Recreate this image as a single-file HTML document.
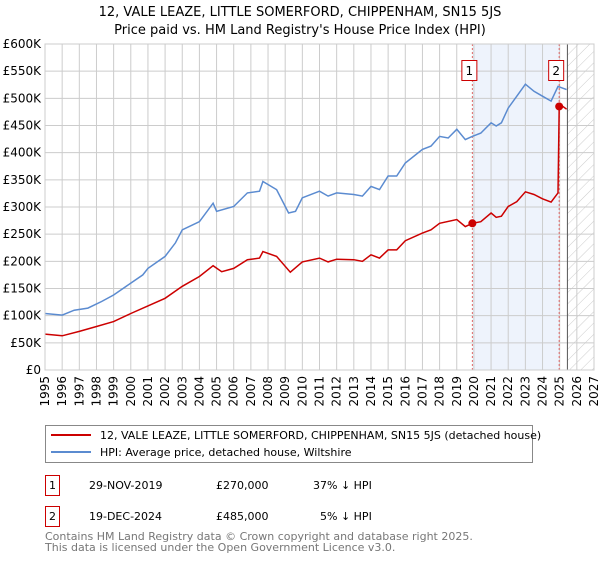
<!DOCTYPE html>
<html><head><meta charset="utf-8"><style>
body{margin:0;background:#fff;font-family:"Liberation Sans","DejaVu Sans",sans-serif;}
svg text{font-family:"DejaVu Sans","Liberation Sans",sans-serif;}
</style></head><body>
<svg id="c" width="600" height="560" xmlns="http://www.w3.org/2000/svg">
<defs><pattern id="hatch" width="8" height="8" patternUnits="userSpaceOnUse" patternTransform="rotate(45)"><line x1="0" y1="0" x2="0" y2="8" stroke="#ccc" stroke-width="1"/></pattern></defs>
<text x="300" y="16" text-anchor="middle" font-size="13">12, VALE LEAZE, LITTLE SOMERFORD, CHIPPENHAM, SN15 5JS</text>
<text x="300" y="34" text-anchor="middle" font-size="13">Price paid vs. HM Land Registry's House Price Index (HPI)</text>
<g id="plot"></g>
<rect x="45.5" y="425.5" width="487" height="37" fill="#fff" stroke="#888"/>
<line x1="51" y1="435" x2="91" y2="435" stroke="#cc0000" stroke-width="2"/>
<text x="100" y="439" font-size="11">12, VALE LEAZE, LITTLE SOMERFORD, CHIPPENHAM, SN15 5JS (detached house)</text>
<line x1="51" y1="452" x2="91" y2="452" stroke="#5b8bd0" stroke-width="2"/>
<text x="100" y="456" font-size="11">HPI: Average price, detached house, Wiltshire</text>
<g>
<rect x="45.5" y="475.5" width="14" height="20" fill="none" stroke="#cc0000"/>
<text x="52.5" y="489" text-anchor="middle" font-size="11">1</text>
<text x="89" y="489" font-size="11">29-NOV-2019</text>
<text x="216" y="489" font-size="11">£270,000</text>
<text x="313" y="489" font-size="11">37% ↓ HPI</text></g>
<g>
<rect x="45.5" y="506.5" width="14" height="20" fill="none" stroke="#cc0000"/>
<text x="52.5" y="520" text-anchor="middle" font-size="11">2</text>
<text x="89" y="520" font-size="11">19-DEC-2024</text>
<text x="216" y="520" font-size="11">£485,000</text>
<text x="320" y="520" font-size="11">5% ↓ HPI</text></g>
<text x="45" y="540" font-size="11" fill="#777">Contains HM Land Registry data © Crown copyright and database right 2025.</text>
<text x="45" y="551" font-size="11" fill="#777">This data is licensed under the Open Government Licence v3.0.</text>
</svg>
<script>
const hpiYears=[1995,1996,1996.7,1997.5,1998.3,1999,2000,2000.7,2001,2002,2002.6,2003,2004,2004.8,2005,2006,2006.8,2007.5,2007.7,2008.5,2009.2,2009.6,2010,2011,2011.5,2012,2013,2013.5,2014,2014.5,2015,2015.5,2016,2017,2017.5,2018,2018.5,2019,2019.5,2019.9,2020.4,2021,2021.3,2021.6,2022,2022.5,2023,2023.5,2024,2024.5,2024.9,2025.4];
const hpiValues=[104,101,110,114,126,138,160,175,187,209,234,258,273,307,292,301,326,329,347,332,289,292,317,329,320,326,323,320,338,332,357,357,381,406,412,430,427,443,424,430,436,455,449,455,482,504,526,513,504,495,522,516];
const propYears=[1995,1996,1997,1998,1999,2000,2001,2002,2003,2004,2004.8,2005.3,2006,2006.8,2007.5,2007.7,2008.5,2009.3,2010,2011,2011.5,2012,2013,2013.5,2014,2014.5,2015,2015.5,2016,2017,2017.5,2018,2019,2019.5,2019.91,2020.4,2021,2021.3,2021.6,2022,2022.5,2023,2023.5,2024,2024.5,2024.9,2024.97,2025.1,2025.4];
const propValues=[66,63,71,80,89,104,118,132,154,172,192,181,187,203,206,218,209,180,199,206,199,204,203,200,212,206,221,221,238,252,258,270,277,264,270,273,289,281,283,301,310,328,323,315,309,326,485,487,480];
const saleYears=[2019.91,2024.97];
const saleValues=[270000,485000];
const saleLabels=["1","2"];
const yTicks=[0,50,100,150,200,250,300,350,400,450,500,550,600];
const xTickYears=[1995,1996,1997,1998,1999,2000,2001,2002,2003,2004,2005,2006,2007,2008,2009,2010,2011,2012,2013,2014,2015,2016,2017,2018,2019,2020,2021,2022,2023,2024,2025,2026,2027];
const L=45,R=594,T=44,B=370,x0=1995,x1=2027,ymax=600;
const xs=y=>L+(y-x0)/(x1-x0)*(R-L);
const ys=v=>B-v/ymax*(B-T);
const NS="http://www.w3.org/2000/svg";
const g=document.getElementById('plot');
function mk(t,a){const e=document.createElementNS(NS,t);for(const k in a)e.setAttribute(k,a[k]);g.appendChild(e);return e;}
let r=mk('rect',{x:xs(saleYears[0]),y:T,width:xs(saleYears[1])-xs(saleYears[0]),height:B-T,fill:'#eef3fc'});


let h=mk('rect',{x:xs(2025.45),y:T,width:R-xs(2025.45),height:B-T,fill:'url(#hatch)'});


yTicks.forEach(v=>{
 let l=mk('line',{x1:L,x2:R,y1:ys(v),y2:ys(v),stroke:'#ccc'});
 
 
 let t=mk('text',{x:L-4,y:ys(v)+4,'text-anchor':'end','font-size':'12'});
 t.textContent=v===0?'£0':'£'+v+'K';
 
 
});
xTickYears.forEach(y=>{
 let l=mk('line',{x1:xs(y),x2:xs(y),y1:T,y2:B,stroke:'#ccc'});
 
 
 let t=mk('text',{x:0,y:0,'text-anchor':'end','font-size':'12',transform:`translate(${xs(y)+4},${B+6}) rotate(-90)`});
 t.textContent=y;
 
 
});
let vl=mk('line',{x1:xs(2025.45),x2:xs(2025.45),y1:T,y2:B,stroke:'#555'});


saleYears.forEach((y,i)=>{
 let l=mk('line',{x1:xs(y),x2:xs(y),y1:T,y2:B,stroke:'#e06666','stroke-dasharray':'2,2'});
 
 
});
const pts=(xa,va)=>xa.map((y,i)=>xs(y).toFixed(1)+','+ys(va[i]).toFixed(1)).join(' ');
let hp=mk('polyline',{points:pts(hpiYears,hpiValues),fill:'none',stroke:'#5b8bd0','stroke-width':1.5});


let pp=mk('polyline',{points:pts(propYears,propValues),fill:'none',stroke:'#cc0000','stroke-width':1.5});


saleYears.forEach((y,i)=>{
 let c=mk('circle',{cx:xs(y),cy:ys(saleValues[i]/1000),r:4,fill:'#cc0000'});
 
 
 let bx=mk('rect',{x:xs(y)-10.5,y:60.5,width:15,height:20,fill:'#fff',stroke:'#cc0000'});
 
 
 let t=mk('text',{x:xs(y)-3,y:75,'text-anchor':'middle','font-size':'12'});
 t.textContent=saleLabels[i];
 
 
});
let fr=mk('rect',{x:L,y:T,width:R-L,height:B-T,fill:'none',stroke:'#ccc'});


</script>
</body></html>
